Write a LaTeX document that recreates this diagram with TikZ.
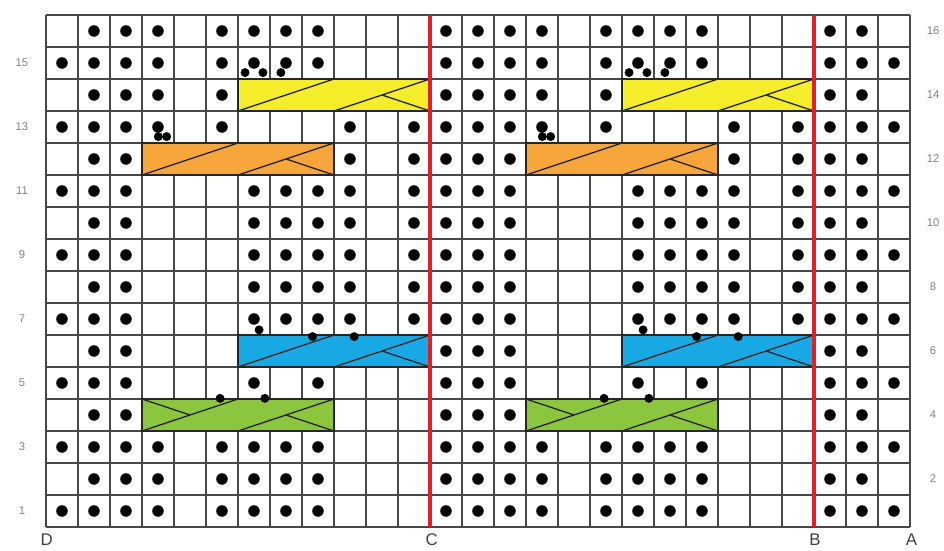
\documentclass[tikz,border=0pt]{standalone}
\usepackage{fontspec}
\setmainfont{Liberation Sans}
\usepackage{tikz}
\usepackage{xcolor}

\begin{document}
\begin{tikzpicture}[scale=0.8,
        gridline/.style={black!72, line width=1.1pt},
        purl/.style={fill=black},
        cableband/.style={draw=black!85, line width=1pt},
        rowlabel/.style={text=black!50, font=\fontsize{8}{9}\selectfont},
        edgelabel/.style={text=black!75, font=\fontsize{12}{14}\selectfont}]

        % Define colors of the chart
        \definecolor{cableyellow}{RGB}{245, 236, 42}
        \definecolor{cableorange}{RGB}{247, 166, 60}
        \definecolor{cableblue}{RGB}{24, 168, 228}
        \definecolor{cablegreen}{RGB}{140, 198, 63}
        \definecolor{chartred}{RGB}{224, 32, 36}

        % Page size with the chart margins
        \useasboundingbox (-1.4375,-0.71875) rectangle (28.0625,16.46875);

        % Background grid, one square per stitch
        \draw[gridline] (0,0) grid (27,16);

        % Cables (fill, then the crossing strands)
        \foreach \cx/\ry/\col in {6/13/cableyellow, 18/13/cableyellow, 3/11/cableorange, 15/11/cableorange,
                                  6/5/cableblue, 18/5/cableblue, 3/3/cablegreen, 15/3/cablegreen} {
            \filldraw[cableband, fill=\col] (\cx,\ry) rectangle (\cx+6,\ry+1);
            \draw[cableband] (\cx,\ry) -- (\cx+3,\ry+1);
            \draw[cableband] (\cx+3,\ry) -- (\cx+6,\ry+1);
            \draw[cableband] (\cx+4.5,\ry+0.5) -- (\cx+6,\ry);
        }
        % Green cables show the left strand too
        \foreach \cx in {3, 15} {
            \draw[cableband] (\cx,4) -- (\cx+1.5,3.5);
        }

        % Repeat lines C and B
        \draw[chartred, line width=2.6pt] (12,0) -- (12,16);
        \draw[chartred, line width=2.6pt] (24,0) -- (24,16);

        % Purl dots, same in both panels
        \foreach \r/\cols in {16/{2,3,4,6,7,8,9}, 15/{2,3,4,6,7,8,9}, 14/{2,3,4,6}, 13/{2,3,4,6,10,12},
                              12/{2,3,10,12}, 11/{2,3,7,8,9,10,12}, 10/{2,3,7,8,9,10,12}, 9/{2,3,7,8,9,10,12},
                              8/{2,3,7,8,9,10,12}, 7/{2,3,7,8,9,10,12}, 6/{2,3}, 5/{2,3,7,9},
                              4/{2,3}, 3/{2,3,4,6,7,8,9}, 2/{2,3,4,6,7,8,9}, 1/{2,3,4,6,7,8,9}} {
            \foreach \c in \cols {
                \fill[purl] (\c-0.5,\r-0.5) circle (0.18);
                \fill[purl] (\c+11.5,\r-0.5) circle (0.18);
            }
        }

        % Edge columns
        \foreach \r in {1,...,16} {
            \fill[purl] (12.5,\r-0.5) circle (0.18);
            \fill[purl] (24.5,\r-0.5) circle (0.18);
            \fill[purl] (25.5,\r-0.5) circle (0.18);
        }
        \foreach \r in {1,3,...,15} {
            \fill[purl] (0.5,\r-0.5) circle (0.18);
            \fill[purl] (26.5,\r-0.5) circle (0.18);
        }

        % Small dots sitting on the cable tops
        \foreach \sx/\sy in {6.22/14.2, 6.78/14.2, 7.34/14.2, 3.51/12.2, 3.77/12.2,
                             6.66/6.16, 8.33/5.95, 9.63/5.95, 5.44/4.02, 6.84/4.02} {
            \fill[purl] (\sx,\sy) circle (0.14);
            \fill[purl] (\sx+12,\sy) circle (0.14);
        }

        % Row numbers
        \foreach \r in {1,3,...,15} {
            \node[rowlabel] (row\r) at (-0.75,\r-0.5) {\r};
        }
        \foreach \r in {2,4,...,16} {
            \node[rowlabel] (row\r) at (27.72,\r-0.5) {\r};
        }

        % Edge letters
        \node[edgelabel] (D) at (0.02,-0.4) {D};
        \node[edgelabel] (C) at (12.05,-0.4) {C};
        \node[edgelabel] (B) at (24.03,-0.4) {B};
        \node[edgelabel] (A) at (27.05,-0.4) {A};

\end{tikzpicture}
\end{document}
